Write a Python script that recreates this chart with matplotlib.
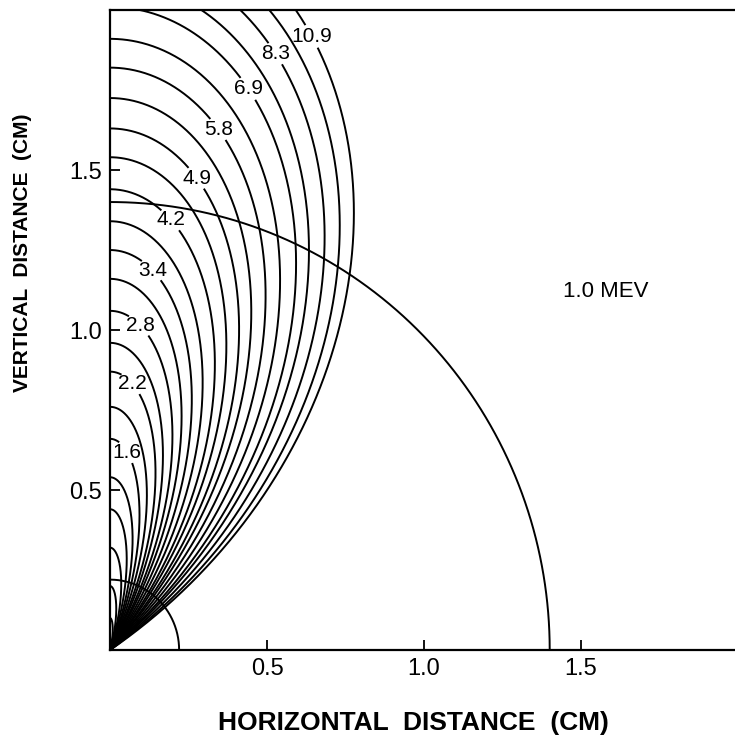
# Isodistance curves, 1.0 MeV
# redrawn from a scanned report figure
##############################################################################

# IMPORT STATEMENTS
##############################################################################
import numpy as np
import matplotlib
matplotlib.use('Agg')
import matplotlib.pyplot as plt


# DATA
##############################################################################
# height (cm) at which each curve meets the vertical axis
curve_top = [0.10, 0.20, 0.32, 0.44, 0.54, 0.66, 0.76, 0.87, 0.96, 1.06,
             1.16, 1.25, 1.34, 1.44, 1.54, 1.63, 1.725, 1.82, 1.91, 2.01,
             2.09, 2.175, 2.25, 2.33]
# angle (deg, measured from the vertical axis) at which each curve runs into the origin
curve_entry = [14, 16, 18, 19.5, 21.5, 23, 25, 27, 28.5, 30.5, 32, 34, 36,
               38, 39.5, 41.5, 43, 45, 47, 49, 50.5, 52.5, 54.5, 56]

# labelled curves: index of the curve, text, angle (deg from vertical) of the label
label_curve = [5, 7, 9, 11, 13, 15, 17, 19, 21, 23]
label_text = ['1.6', '2.2', '2.8', '3.4', '4.2', '4.9', '5.8', '6.9', '8.3', '10.9']
label_angle = [5.1, 4.9, 5.4, 6.5, 8.2, 10.6, 12.0, 14.1, 15.8, 18.5]

# quarter circles round the origin (cm)
circle_radius = [0.22, 1.4]

tick_values = [0.5, 1.0, 1.5]
tick_labels = ['0.5', '1.0', '1.5']
energy_label = '1.0 MEV'


# FUNCTIONS
##############################################################################
# function:   curvePoint
# purpose:    point on a curve at angle phi (rad, from the vertical axis)
# parameters: top height, entry angle (rad), phi (rad, scalar or array)
# return:     x, y
def curvePoint(top, entry, phi):
    r = top * np.cos(0.5 * np.pi * phi / entry)
    return r * np.sin(phi), r * np.cos(phi)


# function:   drawCurve
# purpose:    draws one curve from the origin to the vertical axis, leaving
#             a gap where its label goes
# parameters: axes, top height, entry angle (deg), label point or None
# return:     void
def drawCurve(ax, top, entry_deg, gap=None):
    entry = np.radians(entry_deg)
    phi = np.linspace(entry, 0, 600)
    x, y = curvePoint(top, entry, phi)
    if gap is not None:
        inside = ((x - gap[0]) / 0.062) ** 2 + ((y - gap[1]) / 0.034) ** 2 < 1
        x = np.where(inside, np.nan, x)
        y = np.where(inside, np.nan, y)
    ax.plot(x, y, color='black', lw=1.4, solid_capstyle='butt')


# MAIN SCRIPT
##############################################################################
plt.rcParams['font.family'] = ['Liberation Sans', 'DejaVu Sans']

fig = plt.figure(figsize=(7.35, 7.38), dpi=100)
ax = fig.add_axes([0.1497, 0.1192, 0.8503, 0.8672])

label_points = {}
for i in range(len(label_curve)):
    c = label_curve[i]
    lx, ly = curvePoint(curve_top[c], np.radians(curve_entry[c]), np.radians(label_angle[i]))
    label_points[c] = (lx, ly)
    ax.text(lx, ly, label_text[i], fontsize=15, ha='center', va='center')

for i in range(len(curve_top)):
    drawCurve(ax, curve_top[i], curve_entry[i], label_points.get(i))

theta = np.linspace(0, 0.5 * np.pi, 300)
for R in circle_radius:
    ax.plot(R * np.cos(theta), R * np.sin(theta), color='black', lw=1.4)

ax.text(1.58, 1.12, energy_label, fontsize=16, ha='center', va='center')

ax.set_xlim(0, 1.99)
ax.set_ylim(0, 2.0)
ax.set_xticks(tick_values)
ax.set_xticklabels(tick_labels)
ax.set_yticks(tick_values)
ax.set_yticklabels(tick_labels)
ax.tick_params(direction='in', length=7, width=1.3, labelsize=17, pad=6)
ax.spines['right'].set_visible(False)
for s in ['left', 'bottom', 'top']:
    ax.spines[s].set_linewidth(1.6)

ax.text(0.486, -0.114, 'HORIZONTAL  DISTANCE  (CM)', transform=ax.transAxes,
        fontsize=19, fontweight='bold', ha='center', va='center')
ax.text(-0.14, 0.62, 'VERTICAL  DISTANCE  (CM)', transform=ax.transAxes,
        fontsize=15, fontweight='bold', ha='center', va='center', rotation=90)

fig.savefig('out.png', dpi=100)
